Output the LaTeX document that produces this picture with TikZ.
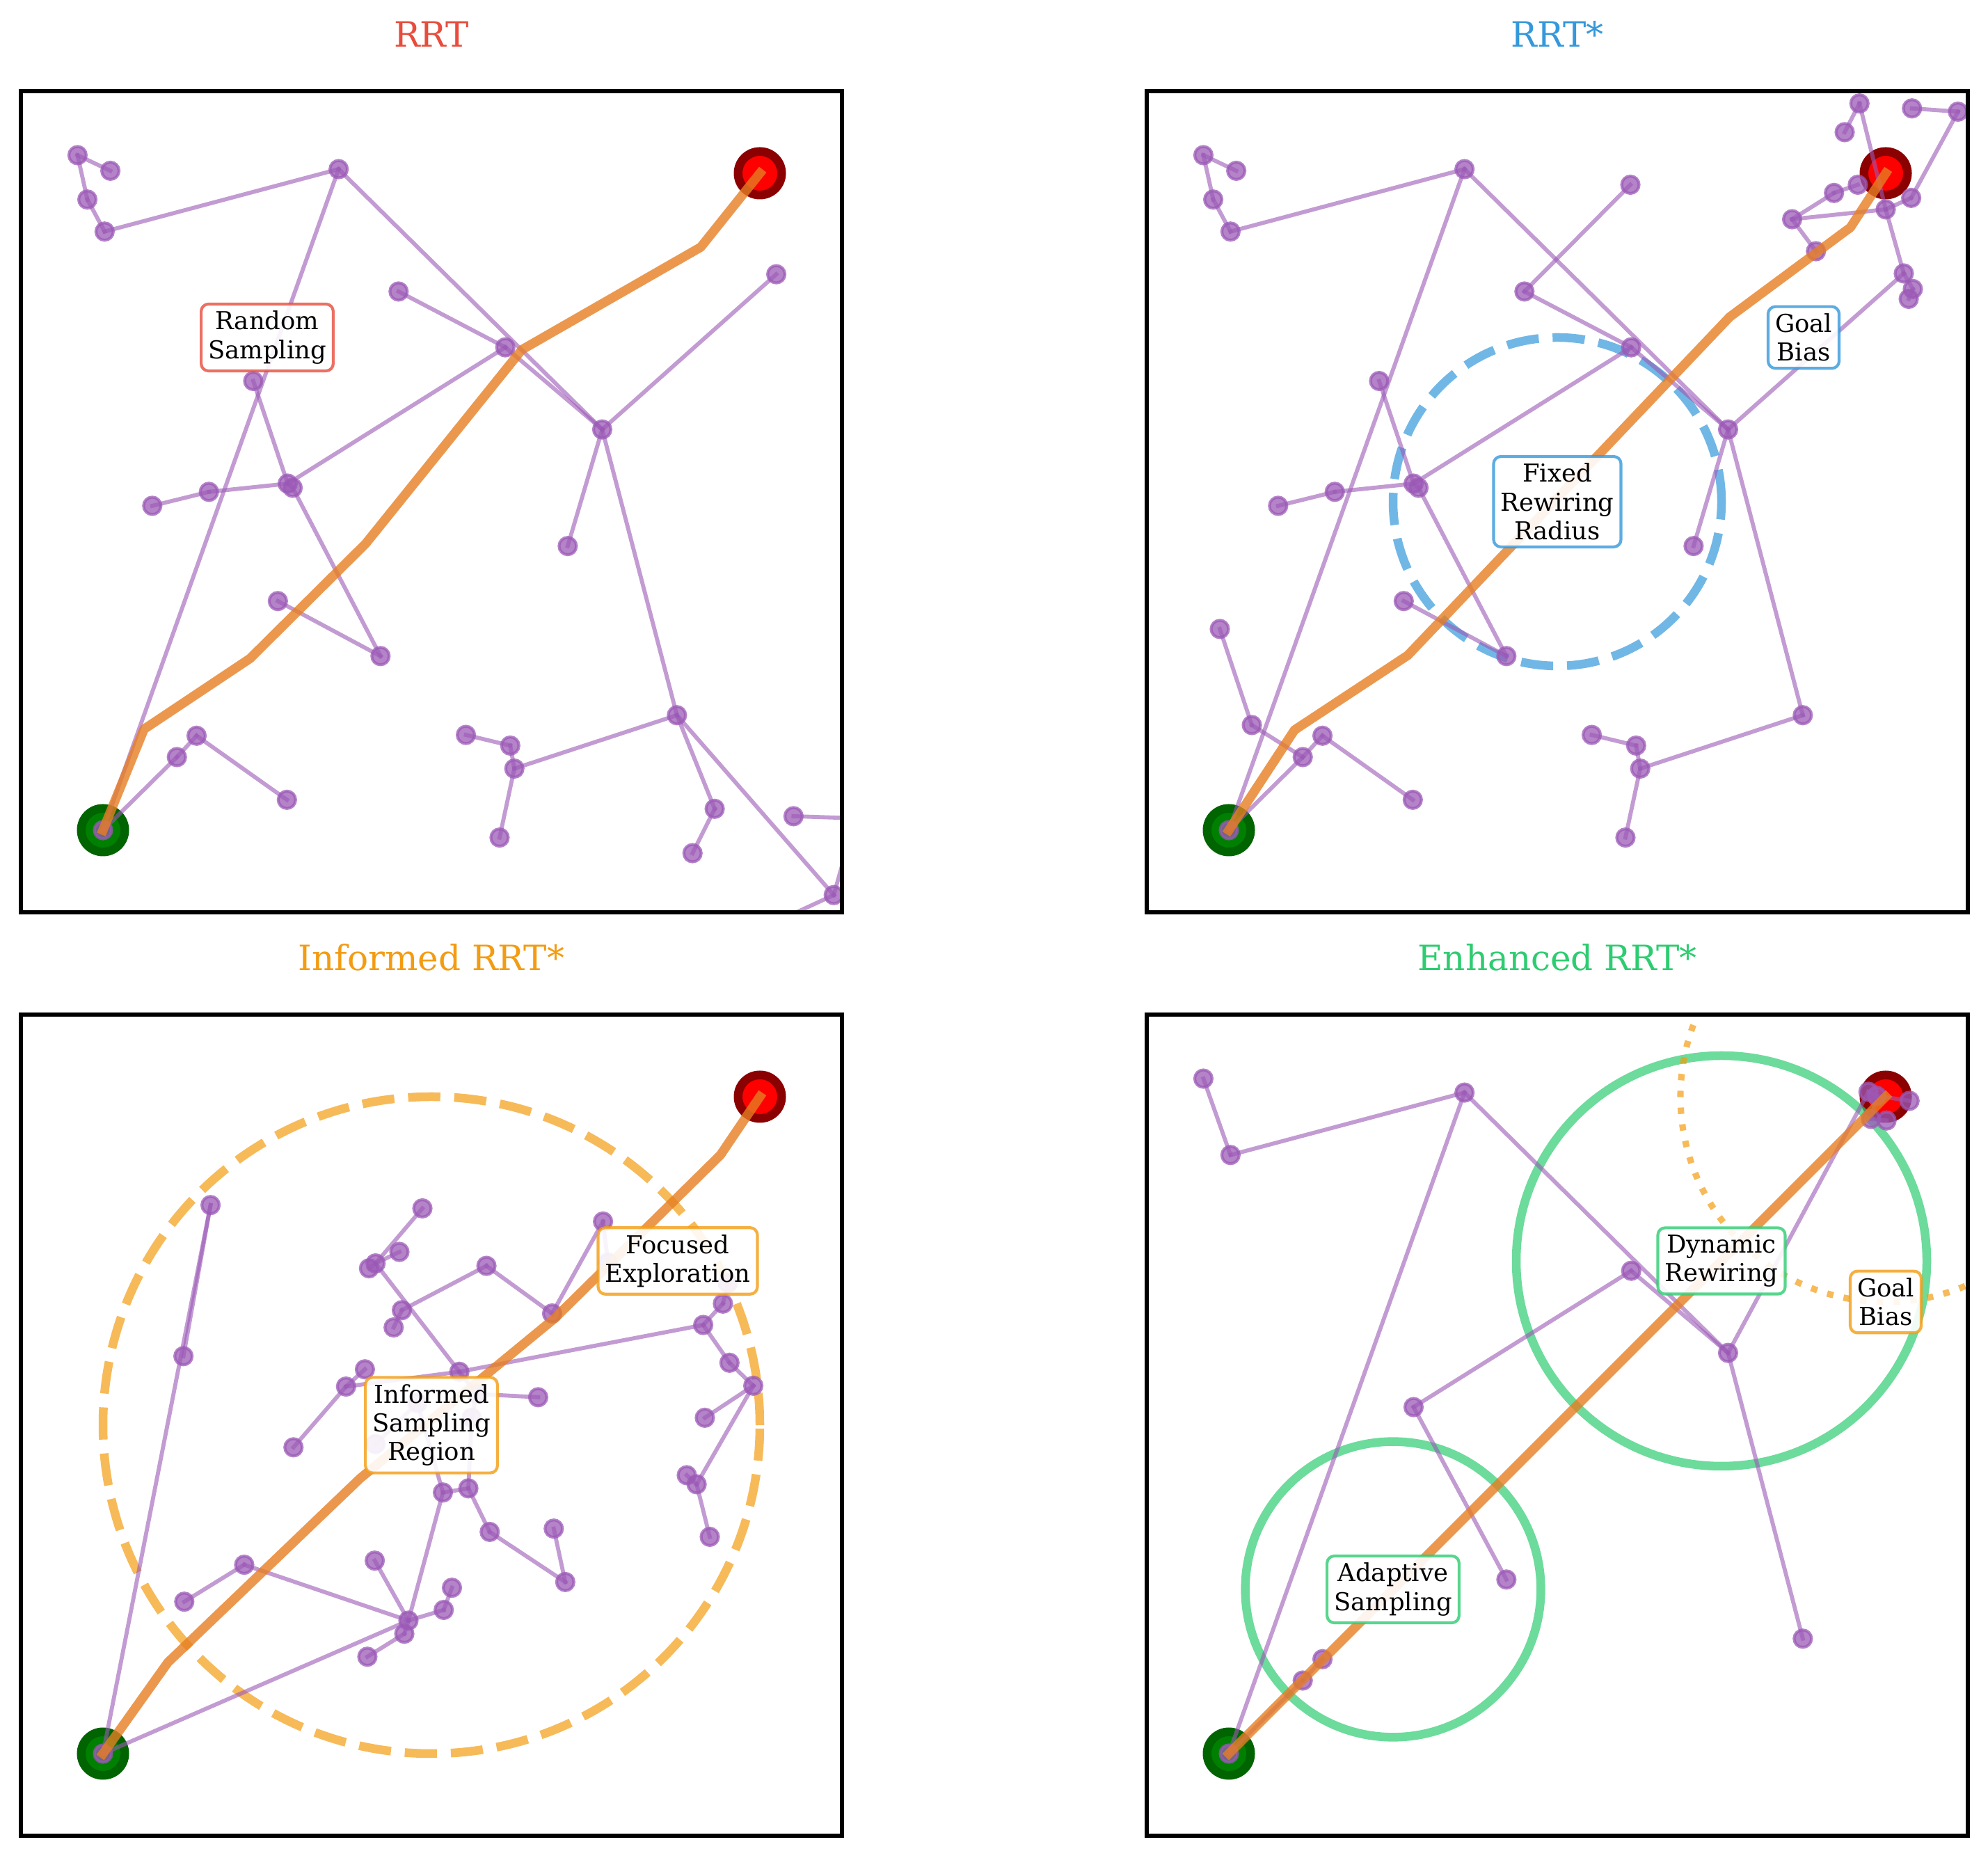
\documentclass[tikz,border=0pt]{standalone}
\usepackage{fontspec}
\setmainfont{DejaVu Serif}
\definecolor{tp}{HTML}{9B59B6}
\definecolor{po}{HTML}{E67E22}
\definecolor{cred}{HTML}{E74C3C}
\definecolor{cblue}{HTML}{3498DB}
\definecolor{corange}{HTML}{F39C12}
\definecolor{cgreen}{HTML}{2ECC71}
\definecolor{dkgreen}{RGB}{0,100,0}
\definecolor{mgreen}{RGB}{0,128,0}
\definecolor{dkred}{RGB}{139,0,0}
\tikzset{
  edge/.style={draw=tp, draw opacity=0.6, line width=1.4bp, line cap=rect},
  vtx/.style={fill=tp, draw=tp, fill opacity=0.75, draw opacity=0.75, line width=1bp},
  route/.style={draw=po, draw opacity=0.8, line width=3.2bp, line cap=rect, line join=round},
  startmk/.style={draw=dkgreen, fill=mgreen, line width=3bp},
  goalmk/.style={draw=dkred, fill=red, line width=3bp},
  lbl/.style={font=\fontsize{8.5bp}{9.9bp}\selectfont, align=center, fill=white, fill opacity=0.9, text opacity=1, draw opacity=0.8, rounded corners=2.5bp, inner sep=2.4bp, line width=1bp},
  ttl/.style={font=\fontsize{12bp}{14bp}\selectfont, anchor=base},
  frame/.style={draw=black, line width=1.4bp},
  panel/.style={x=28.32bp, y=28.32bp},
  dashring/.style={draw opacity=0.7, line width=3bp, dash pattern=on 11.1bp off 4.8bp},
}
\begin{document}
\begin{tikzpicture}
\useasboundingbox (0,0) rectangle (685.68bp,640.8bp);

% ================= Panel A : RRT =================
\begin{scope}[shift={(7.2bp,326.16bp)}, panel]
\coordinate (AS) at (1,1); \coordinate (AG) at (9,9);
\coordinate (A1) at (0.69,9.22); \coordinate (A2) at (1.09,9.03);
\coordinate (A3) at (0.81,8.68); \coordinate (A4) at (1.02,8.29);
\coordinate (A5) at (3.87,9.05); \coordinate (A6) at (4.60,7.56);
\coordinate (A7) at (5.90,6.88); \coordinate (A8) at (7.08,5.88);
\coordinate (A9) at (9.20,7.77); \coordinate (A10) at (2.83,6.47);
\coordinate (A11) at (3.25,5.22); \coordinate (A12) at (3.31,5.17);
\coordinate (A13) at (2.29,5.12); \coordinate (A14) at (1.60,4.95);
\coordinate (A15) at (6.66,4.46); \coordinate (A16) at (3.13,3.79);
\coordinate (A17) at (4.38,3.12); \coordinate (A18) at (7.99,2.40);
\coordinate (A19) at (2.14,2.15); \coordinate (A20) at (1.90,1.89);
\coordinate (A21) at (3.24,1.37); \coordinate (A22) at (5.42,2.16);
\coordinate (A23) at (5.96,2.03); \coordinate (A24) at (6.01,1.75);
\coordinate (A25) at (5.83,0.91); \coordinate (A26) at (8.45,1.26);
\coordinate (A27) at (8.18,0.72); \coordinate (A28) at (9.41,1.17);
\coordinate (A29) at (9.90,0.21);
\coordinate (AE1) at (10.6,1.13); \coordinate (AE2) at (10.17,1.17); \coordinate (AE3) at (9.08,-0.17);
\coordinate (AP1) at (1.50,2.23); \coordinate (AP2) at (2.79,3.09);
\coordinate (AP3) at (4.20,4.49); \coordinate (AP4) at (6.10,6.85);
\coordinate (AP5) at (8.28,8.10);
\begin{scope}
\clip (0,0) rectangle (10,10);
\path[startmk] (AS) circle (7.5bp);
\path[goalmk] (AG) circle (7.5bp);
\foreach \u/\v in {A1/A2,A1/A3,A3/A4,A4/A5,A5/AS,A5/A8,A6/A7,A7/A8,A7/A11,A10/A11,A11/A12,A11/A13,A13/A14,A12/A17,A16/A17,A8/A9,A8/A15,A8/A18,A18/A24,A24/A23,A23/A22,A24/A25,A18/A26,A26/A27,A18/A29,A28/AE1,A29/AE2,A29/AE3,AS/A20,A20/A19,A19/A21}
  {\draw[edge] (\u) -- (\v);}
\foreach \n in {AS,A1,A2,A3,A4,A5,A6,A7,A8,A9,A10,A11,A12,A13,A14,A15,A16,A17,A18,A19,A20,A21,A22,A23,A24,A25,A26,A27,A28,A29}
  {\path[vtx] (\n) circle (3bp);}
\draw[route] (AS) -- (AP1) -- (AP2) -- (AP3) -- (AP4) -- (AP5) -- (AG);
\end{scope}
\node[lbl, draw=cred] (Alab) at (3,7) {Random\\Sampling};
\draw[frame] (0,0) rectangle (10,10);
\node[ttl, text=cred] (Atitle) at (5,10.534) {RRT};
\end{scope}

% ================= Panel B : RRT* =================
\begin{scope}[shift={(395.52bp,326.16bp)}, panel]
\coordinate (BS) at (1,1); \coordinate (BG) at (9,9);
\coordinate (B1) at (0.69,9.22); \coordinate (B2) at (1.09,9.03);
\coordinate (B3) at (0.81,8.68); \coordinate (B4) at (1.02,8.29);
\coordinate (B5) at (3.87,9.05); \coordinate (B6) at (4.60,7.56);
\coordinate (B7) at (5.90,6.88); \coordinate (B8) at (7.08,5.88);
\coordinate (B9) at (9.22,7.78); \coordinate (B10) at (2.83,6.47);
\coordinate (B11) at (3.25,5.22); \coordinate (B12) at (3.31,5.17);
\coordinate (B13) at (2.29,5.12); \coordinate (B14) at (1.60,4.95);
\coordinate (B15) at (6.66,4.46); \coordinate (B16) at (3.13,3.79);
\coordinate (B17) at (4.38,3.12); \coordinate (B18) at (7.99,2.40);
\coordinate (B19) at (2.14,2.15); \coordinate (B20) at (1.90,1.89);
\coordinate (B21) at (3.24,1.37); \coordinate (B22) at (5.42,2.16);
\coordinate (B23) at (5.96,2.03); \coordinate (B24) at (6.01,1.75);
\coordinate (B25) at (5.83,0.91); \coordinate (B26) at (0.89,3.45);
\coordinate (B27) at (1.28,2.28); \coordinate (B28) at (5.89,8.86);
\coordinate (B29) at (8.68,9.85); \coordinate (B30) at (8.50,9.50);
\coordinate (B31) at (9.32,9.79); \coordinate (B32) at (9.88,9.75);
\coordinate (B33) at (8.66,8.86); \coordinate (B34) at (8.37,8.76);
\coordinate (B35) at (7.86,8.44); \coordinate (B36) at (9.00,8.56);
\coordinate (B37) at (9.31,8.70); \coordinate (B38) at (8.15,8.05);
\coordinate (B39) at (9.33,7.59); \coordinate (B40) at (9.28,7.47);
\coordinate (BP1) at (1.80,2.22); \coordinate (BP2) at (3.18,3.13);
\coordinate (BP3) at (7.10,7.25); \coordinate (BP4) at (8.57,8.34);
\coordinate (BC) at (5,5);
\begin{scope}
\clip (0,0) rectangle (10,10);
\path[startmk] (BS) circle (7.5bp);
\path[goalmk] (BG) circle (7.5bp);
\draw[cblue, dashring] (BC) circle (2);
\foreach \u/\v in {B1/B2,B1/B3,B3/B4,B4/B5,B5/BS,B5/B8,B6/B28,B6/B7,B7/B8,B7/B11,B10/B11,B11/B12,B11/B13,B13/B14,B12/B17,B16/B17,B8/B9,B8/B15,B8/B18,B18/B24,B24/B23,B23/B22,B24/B25,BS/B20,B20/B19,B19/B21,B26/B27,B27/B20,B29/B30,B29/B36,B31/B32,B32/B37,B37/B36,B36/B35,B35/B34,B34/B33,B35/B38,B36/B9,B9/B39,B39/B40}
  {\draw[edge] (\u) -- (\v);}
\foreach \n in {BS,B1,B2,B3,B4,B5,B6,B7,B8,B9,B10,B11,B12,B13,B14,B15,B16,B17,B18,B19,B20,B21,B22,B23,B24,B25,B26,B27,B28,B29,B30,B31,B32,B33,B34,B35,B36,B37,B38,B39,B40}
  {\path[vtx] (\n) circle (3bp);}
\draw[route] (BS) -- (BP1) -- (BP2) -- (BP3) -- (BP4) -- (BG);
\end{scope}
\node[lbl, draw=cblue] (Blab1) at (5,5) {Fixed\\Rewiring\\Radius};
\node[lbl, draw=cblue] (Blab2) at (8,7) {Goal\\Bias};
\draw[frame] (0,0) rectangle (10,10);
\node[ttl, text=cblue] (Btitle) at (5,10.534) {RRT*};
\end{scope}

% ================= Panel C : Informed RRT* =================
\begin{scope}[shift={(7.2bp,7.68bp)}, panel]
\coordinate (CS) at (1,1); \coordinate (CG) at (9,9);
\coordinate (C1) at (2.31,7.68); \coordinate (C2) at (1.98,5.84);
\coordinate (C3) at (4.89,7.64); \coordinate (C4) at (4.61,7.11);
\coordinate (C5) at (4.32,6.97); \coordinate (C6) at (4.24,6.91);
\coordinate (C7) at (5.67,6.94); \coordinate (C8) at (4.64,6.40);
\coordinate (C9) at (4.54,6.19); \coordinate (C10) at (6.47,6.36);
\coordinate (C11) at (7.09,7.48); \coordinate (C12) at (7.15,6.98);
\coordinate (C13) at (8.61,6.73); \coordinate (C14) at (8.55,6.48);
\coordinate (C15) at (8.31,6.22); \coordinate (C16) at (8.63,5.76);
\coordinate (C17) at (8.92,5.48); \coordinate (C18) at (8.33,5.09);
\coordinate (C19) at (8.11,4.39); \coordinate (C20) at (8.23,4.28);
\coordinate (C21) at (8.39,3.64); \coordinate (C22) at (4.19,5.68);
\coordinate (C23) at (3.96,5.47); \coordinate (C24) at (3.32,4.73);
\coordinate (C25) at (5.34,5.65); \coordinate (C26) at (6.30,5.34);
\coordinate (C27) at (5.55,5.38); \coordinate (C28) at (5.14,4.18);
\coordinate (C29) at (5.45,4.23); \coordinate (C30) at (5.71,3.70);
\coordinate (C31) at (6.49,3.74); \coordinate (C32) at (6.63,3.09);
\coordinate (C33) at (2.72,3.30); \coordinate (C34) at (1.99,2.85);
\coordinate (C35) at (4.31,3.35); \coordinate (C36) at (5.25,3.02);
\coordinate (C37) at (5.15,2.75); \coordinate (C38) at (4.72,2.62);
\coordinate (C39) at (4.67,2.46); \coordinate (C40) at (4.22,2.18);
\coordinate (C41) at (4.83,5.27); \coordinate (C42) at (4.32,4.77);
\coordinate (C43) at (5.49,5.09);
\coordinate (CP1) at (1.79,2.11); \coordinate (CP2) at (4.13,4.35);
\coordinate (CP3) at (6.50,6.30); \coordinate (CP4) at (8.52,8.29);
\coordinate (CC) at (5,5);
\begin{scope}
\clip (0,0) rectangle (10,10);
\path[startmk] (CS) circle (7.5bp);
\path[goalmk] (CG) circle (7.5bp);
\draw[corange, dashring] (CC) circle (4);
\foreach \u/\v in {CS/C1,C2/C1,CS/C38,C38/C33,C33/C34,C38/C35,C38/C37,C37/C36,C38/C39,C39/C40,C38/C28,C28/C29,C29/C30,C30/C32,C31/C32,C28/C41,C41/C42,C43/C29,C43/C27,C27/C26,C27/C25,C25/C5,C8/C7,C8/C9,C7/C10,C10/C11,C11/C12,C5/C3,C5/C4,C5/C6,C25/C23,C23/C22,C23/C24,C25/C15,C15/C14,C14/C13,C15/C16,C16/C17,C17/C18,C17/C20,C20/C19,C20/C21}
  {\draw[edge] (\u) -- (\v);}
\foreach \n in {CS,C1,C2,C3,C4,C5,C6,C7,C8,C9,C10,C11,C12,C13,C14,C15,C16,C17,C18,C19,C20,C21,C22,C23,C24,C25,C26,C27,C28,C29,C30,C31,C32,C33,C34,C35,C36,C37,C38,C39,C40,C41,C42,C43}
  {\path[vtx] (\n) circle (3bp);}
\draw[route] (CS) -- (CP1) -- (CP2) -- (CP3) -- (CP4) -- (CG);
\end{scope}
\node[lbl, draw=corange] (Clab1) at (5,5) {Informed\\Sampling\\Region};
\node[lbl, draw=corange] (Clab2) at (8,7) {Focused\\Exploration};
\draw[frame] (0,0) rectangle (10,10);
\node[ttl, text=corange] (Ctitle) at (5,10.534) {Informed RRT*};
\end{scope}

% ================= Panel D : Enhanced RRT* =================
\begin{scope}[shift={(395.52bp,7.68bp)}, panel]
\coordinate (DS) at (1,1); \coordinate (DG) at (9,9);
\coordinate (D1) at (0.69,9.22); \coordinate (D2) at (1.02,8.29);
\coordinate (D3) at (3.87,9.05); \coordinate (D4) at (5.90,6.88);
\coordinate (D5) at (7.08,5.88); \coordinate (D6) at (3.25,5.22);
\coordinate (D7) at (4.38,3.12); \coordinate (D8) at (7.99,2.40);
\coordinate (D9) at (2.14,2.15); \coordinate (D10) at (1.90,1.89);
\coordinate (D11) at (8.79,9.06); \coordinate (D12) at (8.89,9.01);
\coordinate (D13) at (9.29,8.95); \coordinate (D14) at (8.82,8.73);
\coordinate (D15) at (9.01,8.71);
\coordinate (DC1) at (7,7); \coordinate (DC2) at (3,3);
\begin{scope}
\clip (0,0) rectangle (10,10);
\path[startmk] (DS) circle (7.5bp);
\path[goalmk] (DG) circle (7.5bp);
\draw[cgreen, draw opacity=0.7, line width=3bp] (DC1) circle (2.5);
\draw[cgreen, draw opacity=0.7, line width=3bp] (DC2) circle (1.8);
\draw[corange, draw opacity=0.7, line width=2.2bp, dash pattern=on 2.2bp off 3.6bp] (DG) circle (2.5);
\foreach \u/\v in {D1/D2,D2/D3,D3/DS,D3/D5,D4/D5,D4/D6,D6/D7,D5/D8,D5/D11,D11/D12,D12/D13,D12/D14,D14/D15,DS/D10,D10/D9}
  {\draw[edge] (\u) -- (\v);}
\foreach \n in {DS,D1,D2,D3,D4,D5,D6,D7,D8,D9,D10,D11,D12,D13,D14,D15}
  {\path[vtx] (\n) circle (3bp);}
\draw[route] (DS) -- (DG);
\end{scope}
\node[lbl, draw=cgreen] (Dlab1) at (7,7) {Dynamic\\Rewiring};
\node[lbl, draw=cgreen] (Dlab2) at (3,3) {Adaptive\\Sampling};
\node[lbl, draw=corange] (Dlab3) at (9,6.5) {Goal\\Bias};
\draw[frame] (0,0) rectangle (10,10);
\node[ttl, text=cgreen] (Dtitle) at (5,10.534) {Enhanced RRT*};
\end{scope}
\end{tikzpicture}
\end{document}
